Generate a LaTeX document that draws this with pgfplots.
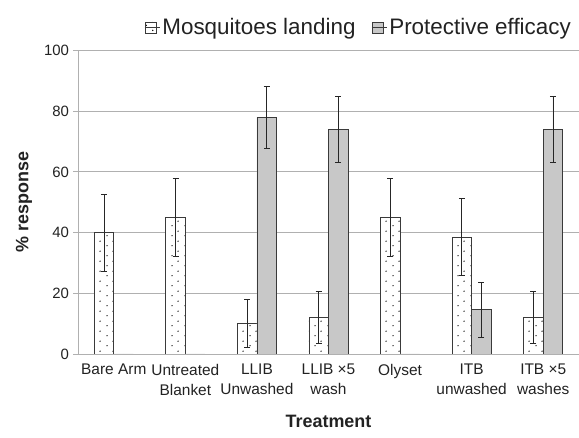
\documentclass[border=0pt]{standalone}
\usepackage{fontspec}
\setmainfont{Liberation Sans}
\usepackage{pgfplots}
\pgfplotsset{compat=1.18}
\usetikzlibrary{patterns.meta}
\definecolor{gridc}{HTML}{B0B0B0}
\definecolor{barline}{HTML}{3A3A3A}
\definecolor{greyfill}{HTML}{C8C8C8}
\definecolor{txt}{HTML}{222222}
\pgfdeclarepattern{
  name=sparsedots,
  type=uncolored,
  bottom left={\pgfpoint{0bp}{0bp}},
  top right={\pgfpoint{13bp}{10bp}},
  tile size={\pgfpoint{13bp}{10bp}},
  code={
    \pgfpathcircle{\pgfpoint{3.25bp}{2.5bp}}{0.75bp}
    \pgfpathcircle{\pgfpoint{9.75bp}{7.5bp}}{0.75bp}
    \pgfusepath{fill}
  }
}
\begin{document}
\begin{tikzpicture}
\useasboundingbox (0,0) rectangle (579bp,438bp);
\begin{axis}[
  at={(78bp,84bp)}, anchor=south west,
  scale only axis,
  width=501bp, height=303.5bp,
  xmin=-0.5, xmax=6.5,
  ymin=0, ymax=100,
  ybar=0pt, bar width=19.5bp,
  axis y line*=left,
  axis x line*=bottom,
  axis line style={draw=gridc, line width=0.9bp, -},
  ymajorgrids,
  grid style={draw=gridc, line width=0.9bp},
  ytick={0,20,40,60,80,100},
  xtick={0,1,2,3,4,5,6},
  xticklabels={Bare Arm, {Untreated\\Blanket}, {LLIB\\Unwashed}, {LLIB ×5\\wash}, Olyset, {ITB\\unwashed}, {ITB ×5\\washes}},
  xtick style={draw=none},
  ytick style={draw=gridc, line width=0.9bp},
  tick align=outside,
  major tick length=4.5bp,
  /pgf/number format/assume math mode=true,
  yticklabel style={font=\fontsize{15}{17}\selectfont, text=txt, xshift=-1bp},
  xticklabel style={font=\fontsize{15.5}{20}\selectfont, text=txt, align=center, yshift=-2bp, anchor=north, text depth=0pt},
  xlabel={Treatment},
  ylabel={\% response},
  xlabel style={font=\bfseries\fontsize{18}{20}\selectfont, text=txt, at={(axis description cs:0.5,0)}, anchor=center, yshift=-67bp},
  ylabel style={font=\bfseries\fontsize{18}{20}\selectfont, text=txt, at={(axis description cs:0,0.5)}, anchor=center, yshift=54bp},
  legend columns=2,
  legend style={draw=none, fill=none, font=\fontsize{22.5}{26}\selectfont, text=txt,
    at={(rel axis cs:1,1)}, anchor=east, xshift=-3bp, yshift=23bp,
    /tikz/every even column/.append style={column sep=14bp}},
  legend image code/.code={\draw[#1, line width=0.7bp] (0bp,-5.5bp) rectangle (11bp,5.5bp); \path (0bp,0bp) -- (15bp,0bp);},
  error bars/y dir=both,
  error bars/y explicit,
  error bars/error bar style={line width=0.9bp, draw=black!85},
  error bars/error mark options={rotate=90, mark size=3bp, line width=0.9bp, draw=black!85},
]
\addplot[draw=barline, line width=0.8bp, fill=white, postaction={pattern=sparsedots, pattern color=black}]
  coordinates {(0,40) +- (0,12.7) (1,45) +- (0,13) (2,10) +- (0,8) (3,12) +- (0,8.5) (4,45) +- (0,13) (5,38.5) +- (0,12.7) (6,12) +- (0,8.5)};
\addlegendentry{Mosquitoes landing}
\addplot[draw=barline, line width=0.8bp, fill=greyfill]
  coordinates {(0,0) +- (0,0) (1,0) +- (0,0) (2,78) +- (0,10.3) (3,74) +- (0,11) (4,0) +- (0,0) (5,14.6) +- (0,9) (6,74) +- (0,11)};
\addlegendentry{Protective efficacy}
\end{axis}
\end{tikzpicture}
\end{document}
